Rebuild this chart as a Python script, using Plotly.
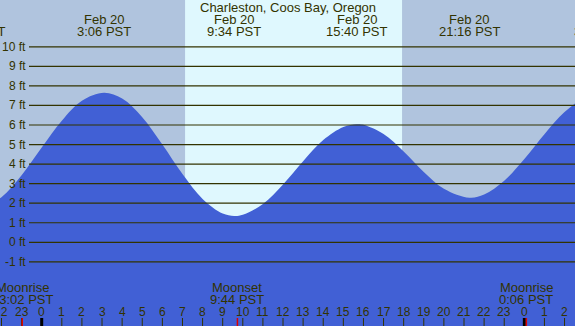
import plotly.graph_objects as go

# ---------------- data ----------------
# tide heights (ft) vs time in hours from midnight Feb 20 (PST)
tide_hours = [-4, -3.34, -3, -2, -1, 0, 1, 2, 3.1, 4, 5, 6, 7, 8, 9, 9.567,
              10, 11, 12, 13, 14, 15, 15.667, 16, 17, 18, 19, 20, 21.267,
              22, 23, 24, 25, 26, 27, 27.8]
tide_ft = [1.78, 1.70, 1.74, 2.31, 3.43, 4.85, 6.22, 7.24, 7.65, 7.35, 6.40,
           5.00, 3.49, 2.22, 1.47, 1.35, 1.41, 1.96, 2.96, 4.15, 5.23, 5.90,
           6.04, 6.01, 5.54, 4.65, 3.60, 2.74, 2.28, 2.44, 3.15, 4.26, 5.53,
           6.66, 7.40, 7.60]

extreme_hours = [-3.34, 3.1, 9.567, 15.667, 21.267, 27.8]
extreme_dates = ["Feb 19", "Feb 20", "Feb 20", "Feb 20", "Feb 20", "Feb 21"]
extreme_times = ["20:40 PST", "3:06 PST", "9:34 PST", "15:40 PST", "21:16 PST", "3:48 PST"]

moon_hours = [-0.967, 9.733, 24.1]
moon_events = ["Moonrise", "Moonset", "Moonrise"]
moon_times = ["23:02 PST", "9:44 PST", "0:06 PST"]

sunrise_hour = 7.13
sunset_hour = 17.92

hour_ticks = list(range(-2, 27))
hour_labels = [str(h % 24) for h in hour_ticks]

ft_levels = [-1, 0, 1, 2, 3, 4, 5, 6, 7, 8, 9, 10]
ft_labels = [f"{v} ft" for v in ft_levels]

title = "Charleston, Coos Bay, Oregon"

# ---------------- style ----------------
W, H = 575, 326
X_RANGE = [-2.074, 26.52]
Y_RANGE = [-4.281, 12.394]
NIGHT = "#B0C4DE"
DAY = "#DFF8FE"
FILL = "#4160D5"
INK = "#333300"
FONT = "Liberation Sans, Arial, sans-serif"


def py(pix):
    return 1 - pix / H


def px_paper(hour):
    # map an hour value through the x-axis range to paper coordinates
    return (hour - X_RANGE[0]) / (X_RANGE[1] - X_RANGE[0])


fig = go.Figure()
base = [Y_RANGE[0] - 1] * len(tide_hours)
fig.add_trace(go.Scatter(x=tide_hours, y=base, mode="lines",
                         line=dict(width=0, color=FILL), hoverinfo="skip",
                         showlegend=False))
fig.add_trace(go.Scatter(x=tide_hours, y=tide_ft, mode="lines",
                         line=dict(width=0, color=FILL, shape="spline", smoothing=1),
                         fill="tonexty", fillcolor=FILL, showlegend=False))

shapes = []
# daylight band
shapes.append(dict(type="rect", xref="x", yref="paper", x0=sunrise_hour, x1=sunset_hour,
                   y0=0, y1=1, fillcolor=DAY, line=dict(width=0), layer="below"))
# horizontal grid lines
for v in ft_levels:
    shapes.append(dict(type="line", xref="paper", yref="y", x0=29 / W, x1=1, y0=v, y1=v,
                       line=dict(color=INK, width=1.2), layer="above"))
# hour ticks
for h in hour_ticks:
    mid = (h % 24 == 0)
    shapes.append(dict(type="line", xref="x", yref="paper", x0=h, x1=h,
                       y0=py(318), y1=0,
                       line=dict(color="#000000" if mid else INK, width=3 if mid else 1),
                       layer="above"))
# moon ticks
for h in moon_hours:
    shapes.append(dict(type="line", xref="x", yref="paper", x0=h, x1=h,
                       y0=py(318), y1=0, line=dict(color="#DD0000", width=1.5),
                       layer="above"))


def txt(text, xp, ypix, size=13, xanchor="center"):
    return dict(text=text, x=xp, xref="paper", y=py(ypix), yref="paper",
                showarrow=False, font=dict(size=size, color=INK, family=FONT),
                xanchor=xanchor, yanchor="middle", borderpad=0)


ann = [txt(title, 0.5, 7.8)]
for h, d, t in zip(extreme_hours, extreme_dates, extreme_times):
    ann.append(txt(d, px_paper(h), 19.2))
    ann.append(txt(t, px_paper(h), 31.4))
for h, e, t in zip(moon_hours, moon_events, moon_times):
    ann.append(txt(e, px_paper(h), 287.5))
    ann.append(txt(t, px_paper(h), 299.5))
for h, lab in zip(hour_ticks, hour_labels):
    ann.append(txt(lab, px_paper(h), 311.5, size=12))
for v, lab in zip(ft_levels, ft_labels):
    ann.append(dict(text=lab, x=27 / W, xref="paper", y=v, yref="y", showarrow=False,
                    font=dict(size=12, color=INK, family=FONT), xanchor="right",
                    yanchor="middle", borderpad=0))

fig.update_layout(
    width=W, height=H, margin=dict(l=0, r=0, t=0, b=0),
    paper_bgcolor=NIGHT, plot_bgcolor=NIGHT,
    xaxis=dict(range=X_RANGE, visible=False, fixedrange=True),
    yaxis=dict(range=Y_RANGE, visible=False, fixedrange=True),
    shapes=shapes, annotations=ann, showlegend=False,
)
fig.write_html("out.html", config={"displayModeBar": False},
               post_script="document.body.style.margin='0';document.body.style.padding='0';"
                           "document.body.style.overflow='hidden';")
